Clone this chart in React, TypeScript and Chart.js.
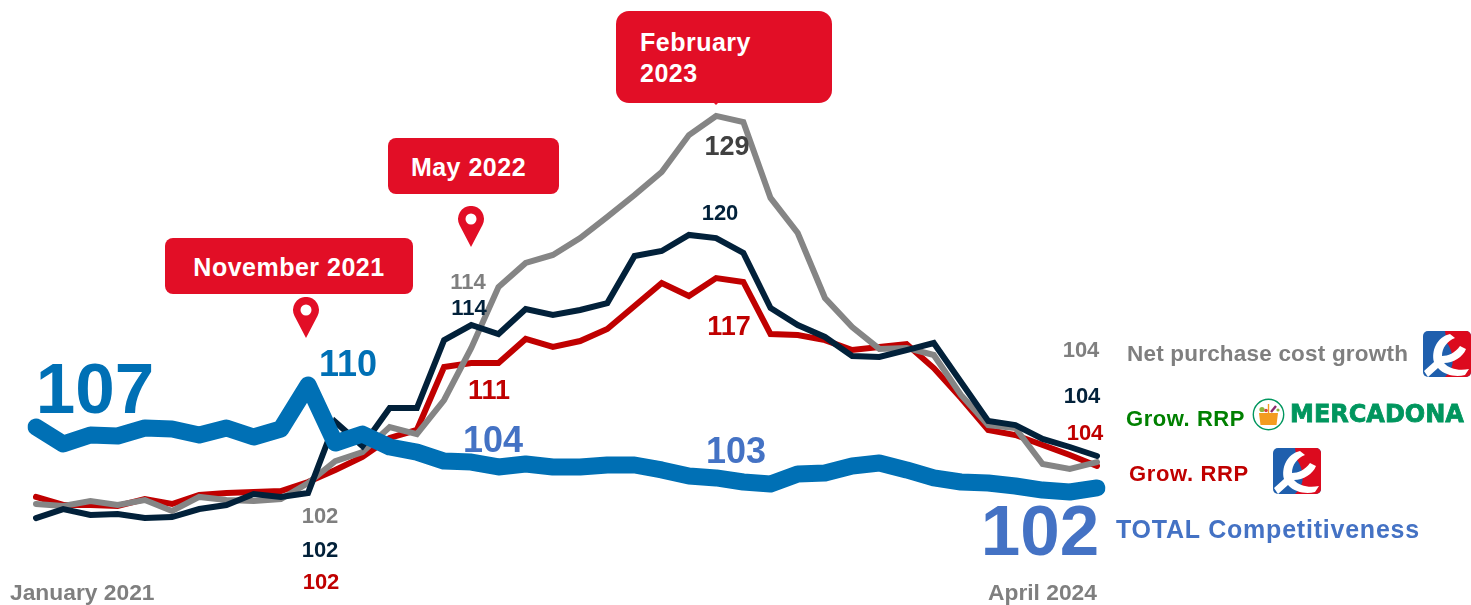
import React, { useEffect, useRef } from "react";
import { Chart, registerables } from "chart.js";

Chart.register(...registerables);

const categories = [
  "Jan 21","Feb 21","Mar 21","Apr 21","May 21","Jun 21","Jul 21","Aug 21","Sep 21","Oct 21","Nov 21","Dec 21",
  "Jan 22","Feb 22","Mar 22","Apr 22","May 22","Jun 22","Jul 22","Aug 22","Sep 22","Oct 22","Nov 22","Dec 22",
  "Jan 23","Feb 23","Mar 23","Apr 23","May 23","Jun 23","Jul 23","Aug 23","Sep 23","Oct 23","Nov 23","Dec 23",
  "Jan 24","Feb 24","Mar 24","Apr 24",
];

const totalCompetitiveness = [
  106.65,105.44,106.08,106.01,106.58,106.51,106.08,106.58,105.94,106.51,109.64,105.51,106.15,105.23,104.87,104.23,104.16,103.81,104.02,103.81,
  103.81,103.95,103.95,103.6,103.17,103.03,102.74,102.6,103.31,103.38,103.88,104.09,103.6,103.03,102.74,102.67,102.46,102.17,102.03,102.32,
];
const growRrpEroski = [
  101.68,101.11,101.11,101.04,101.53,101.18,101.82,101.96,102.03,102.1,102.74,103.6,104.52,105.87,106.44,110.92,111.2,111.2,112.91,112.34,
  112.76,113.62,115.25,116.89,115.96,117.24,116.96,113.26,113.19,112.83,112.12,112.34,112.55,110.84,108.71,106.44,106.08,105.37,104.66,103.88,
];
const netPurchaseCost = [
  101.18,101.04,101.39,101.11,101.46,100.68,101.68,101.46,101.39,101.53,102.67,104.23,104.87,106.65,106.15,108.57,112.27,116.6,118.31,118.88,
  120.08,121.58,123.14,124.78,127.4,128.76,128.33,122.93,120.44,115.82,113.76,112.2,112.27,111.77,108.93,106.79,106.58,104.02,103.67,104.16,
];
const growRrpMercadona = [
  100.18,100.82,100.4,100.47,100.18,100.25,100.82,101.11,101.89,101.68,101.96,107.01,105.3,108.0,108.0,112.83,113.9,113.26,115.04,114.61,
  114.97,115.46,118.81,119.16,120.3,120.08,119.02,115.11,113.9,113.05,111.7,111.63,112.12,112.62,109.85,107.08,106.79,105.8,105.23,104.59,
];

const RED = "#E20E26";
const GREY = "#7F7F7F";
const NAVY = "#02213A";
const DARKRED = "#C00000";
const BLUE = "#0070B5";
const SLATE = "#4472C4";
const FONT = "'Liberation Sans', Arial, sans-serif";

type T = { t: string; x: number; y: number; s: number; c: string; a?: "l" | "r" | "c"; ls?: number };

const texts: T[] = [
  { t: "107", x: 95, y: 388, s: 71, c: BLUE, a: "c" },
  { t: "110", x: 348, y: 364, s: 36, c: BLUE, a: "c" },
  { t: "104", x: 493, y: 440, s: 36, c: SLATE, a: "c" },
  { t: "103", x: 736, y: 451, s: 36, c: SLATE, a: "c" },
  { t: "102", x: 1040, y: 530, s: 71, c: SLATE, a: "c" },
  { t: "102", x: 320, y: 516, s: 22, c: GREY, a: "c" },
  { t: "102", x: 320, y: 550, s: 22, c: NAVY, a: "c" },
  { t: "102", x: 321, y: 582, s: 22, c: DARKRED, a: "c" },
  { t: "111", x: 489, y: 390, s: 27, c: DARKRED, a: "c" },
  { t: "114", x: 468, y: 282, s: 22, c: GREY, a: "c" },
  { t: "114", x: 469, y: 308, s: 22, c: NAVY, a: "c" },
  { t: "117", x: 729, y: 326, s: 27, c: DARKRED, a: "c" },
  { t: "120", x: 720, y: 213, s: 22, c: NAVY, a: "c" },
  { t: "129", x: 727, y: 146, s: 27, c: "#404040", a: "c" },
  { t: "104", x: 1081, y: 350, s: 22, c: GREY, a: "c" },
  { t: "104", x: 1082, y: 396, s: 22, c: NAVY, a: "c" },
  { t: "104", x: 1085, y: 433, s: 22, c: DARKRED, a: "c" },
  { t: "January 2021", x: 10, y: 592, s: 22.8, c: GREY },
  { t: "April 2024", x: 988, y: 592, s: 22.8, c: GREY },
  { t: "Net purchase cost growth", x: 1127, y: 354, s: 22.5, c: GREY, ls: 0.2 },
  { t: "Grow. RRP", x: 1126, y: 419, s: 22, c: "#008000", ls: 0.55 },
  { t: "Grow. RRP", x: 1129, y: 474, s: 22, c: DARKRED, ls: 0.65 },
  { t: "TOTAL Competitiveness", x: 1116, y: 529, s: 25, c: SLATE, ls: 0.78 },
];

function Label({ t, x, y, s, c, a, ls }: T) {
  const tx = a === "c" ? "translate(-50%,-50%)" : "translate(0,-50%)";
  return (
    <span style={{ position: "absolute", left: x, top: y, transform: tx, fontSize: s, color: c, fontWeight: 700, fontFamily: FONT, whiteSpace: "nowrap", lineHeight: 1, letterSpacing: ls }}>
      {t}
    </span>
  );
}

function Callout({ x, y, w, h, r, lines, left, right, top }: { x: number; y: number; w: number; h: number; r: number; lines: string[]; left?: number; right?: number; top?: number }) {
  return (
    <div style={{ position: "absolute", left: x, top: y, width: w, height: h, background: RED, borderRadius: r, color: "#fff", fontFamily: FONT, fontWeight: 700, fontSize: 25, letterSpacing: 0.5, lineHeight: "31px", display: "flex", flexDirection: "column", justifyContent: "center", alignItems: left ? "flex-start" : "center", paddingLeft: left ?? 0, paddingRight: right ?? 0, paddingTop: top ?? 0, boxSizing: "border-box" }}>
      {lines.map((l) => <div key={l}>{l}</div>)}
    </div>
  );
}

function Pin({ x, y }: { x: number; y: number }) {
  return (
    <svg style={{ position: "absolute", left: x, top: y }} width="28" height="42" viewBox="0 0 28 42">
      <path d="M14 41 L2.5 19 A13 13 0 1 1 25.5 19 Z" fill={RED} />
      <circle cx="14" cy="13" r="5.5" fill="#fff" />
    </svg>
  );
}

function Eroski({ x, y }: { x: number; y: number }) {
  return (
    <svg style={{ position: "absolute", left: x, top: y }} width="48" height="46" viewBox="0 0 48 46">
      <rect x="0" y="0" width="48" height="46" rx="5" fill="#1F5FAD" />
      <path d="M22 0 H43 A5 5 0 0 1 48 5 V41 A5 5 0 0 1 43 46 H22 C34 36 30 20 24 12 Z" fill="#DC0A1E" />
      <path d="M27 3 C14 6 8 20 11 31 L1 40 L5 46 L15 37 C22 45 34 46 42 44 L46 38 C36 40 26 38 21 32 C30 32 40 26 43 18 L37 15 C32 22 25 25 19 25 C19 17 24 10 32 7 Z" fill="#fff" />
    </svg>
  );
}

function MercadonaBasket({ x, y }: { x: number; y: number }) {
  return (
    <svg style={{ position: "absolute", left: x, top: y }} width="33" height="33" viewBox="0 0 33 33">
      <circle cx="16.5" cy="16.5" r="15.2" fill="#fff" stroke="#00965E" strokeWidth="1.4" />
      <path d="M7 15 H26 L24.5 27 H8.5 Z" fill="#F39C1F" />
      <path d="M16.5 6 V15" stroke="#F39C1F" strokeWidth="1.4" />
      <circle cx="10" cy="11.5" r="2.6" fill="#8DB63C" />
      <circle cx="14" cy="12.5" r="1.8" fill="#D8443C" />
      <path d="M19 14 L24 8" stroke="#8A2A6E" strokeWidth="2.4" />
      <circle cx="26" cy="12" r="1.6" fill="#8DB63C" />
    </svg>
  );
}

export default function App() {
  const ref = useRef<HTMLCanvasElement>(null);
  useEffect(() => {
    const thin = { fill: false, pointRadius: 0, borderWidth: 6, tension: 0, borderCapStyle: "round" as const, borderJoinStyle: "miter" as const };
    const chart = new Chart(ref.current!, {
      type: "line",
      data: {
        labels: categories,
        datasets: [
          { label: "TOTAL Competitiveness", data: totalCompetitiveness, borderColor: BLUE, backgroundColor: BLUE, fill: false, pointRadius: 0, borderWidth: 17, tension: 0, borderCapStyle: "round", borderJoinStyle: "round", order: 0 },
          { label: "Grow. RRP Mercadona", data: growRrpMercadona, borderColor: NAVY, backgroundColor: NAVY, ...thin, order: 1 },
          { label: "Net purchase cost growth", data: netPurchaseCost, borderColor: "#858585", backgroundColor: GREY, ...thin, order: 2 },
          { label: "Grow. RRP Eroski", data: growRrpEroski, borderColor: DARKRED, backgroundColor: DARKRED, ...thin, order: 3 },
        ],
      },
      options: {
        animation: false,
        responsive: false,
        maintainAspectRatio: false,
        layout: { padding: { left: 36, right: 374, top: 0, bottom: 0 } },
        plugins: { legend: { display: false }, tooltip: { enabled: false } },
        scales: {
          x: { display: false, offset: false },
          y: { display: false, min: 94, max: 137 },
        },
      },
    });
    return () => chart.destroy();
  }, []);

  return (
    <div style={{ position: "absolute", left: 0, top: 0, width: 1471, height: 605, overflow: "hidden", background: "#fff" }}>
      <canvas ref={ref} width={1471} height={605} style={{ position: "absolute", left: 0, top: 0, width: 1471, height: 605 }} />
      <Callout x={165} y={238} w={248} h={56} r={8} lines={["November 2021"]} top={2} />
      <Callout x={388} y={138} w={171} h={56} r={8} lines={["May 2022"]} right={10} top={2} />
      <Callout x={616} y={11} w={216} h={92} r={13} lines={["February", "2023"]} left={24} top={2} />
      <svg style={{ position: "absolute", left: 712, top: 102 }} width="8" height="4" viewBox="0 0 8 4"><path d="M1 0 H7 L4 3 Z" fill={RED} /></svg>
      <Pin x={292} y={297} />
      <Pin x={457} y={206} />
      {texts.map((l, i) => <Label key={i} {...l} />)}
      <Eroski x={1423} y={331} />
      <Eroski x={1273} y={448} />
      <MercadonaBasket x={1252} y={398} />
      <span style={{ position: "absolute", left: 1290, top: 414, transform: "translateY(-50%)", fontFamily: "'DejaVu Sans', sans-serif", fontWeight: 700, fontSize: 24, color: "#00965E", whiteSpace: "nowrap", lineHeight: 1, WebkitTextStroke: "0.8px #00965E" } as React.CSSProperties}>MERCADONA</span>
    </div>
  );
}
